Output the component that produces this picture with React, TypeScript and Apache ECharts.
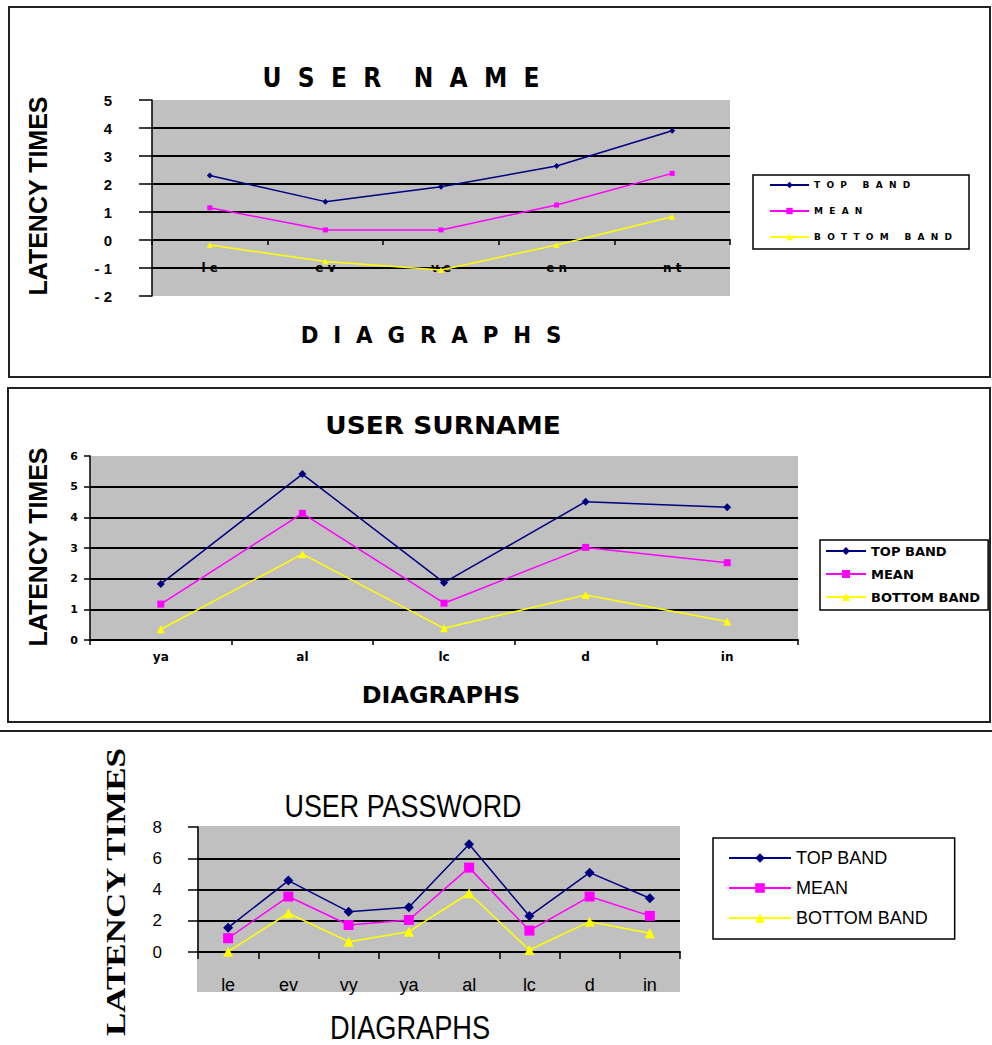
import React, { useEffect, useRef } from 'react';
import * as echarts from 'echarts';

// ---- data ----
const seriesNames = ['TOP BAND', 'MEAN', 'BOTTOM BAND'];

const nameCategories = ['le', 'ev', 've', 'en', 'nt'];
const nameTop = [2.3, 1.37, 1.9, 2.64, 3.9];
const nameMean = [1.15, 0.36, 0.36, 1.25, 2.38];
const nameBottom = [-0.18, -0.77, -1.07, -0.18, 0.83];

const surnameCategories = ['ya', 'al', 'lc', 'd', 'in'];
const surnameTop = [1.83, 5.41, 1.87, 4.51, 4.33];
const surnameMean = [1.17, 4.13, 1.2, 3.02, 2.52];
const surnameBottom = [0.35, 2.8, 0.38, 1.47, 0.6];

const passwordCategories = ['le', 'ev', 'vy', 'ya', 'al', 'lc', 'd', 'in'];
const passwordTop = [1.56, 4.57, 2.58, 2.86, 6.9, 2.3, 5.08, 3.44];
const passwordMean = [0.88, 3.55, 1.73, 2.05, 5.4, 1.37, 3.55, 2.31];
const passwordBottom = [0.02, 2.48, 0.66, 1.3, 3.76, 0.13, 1.94, 1.2];

const NAVY = '#000080';
const MAGENTA = '#FF00FF';
const YELLOW = '#FFFF00';
const GRAY = '#C0C0C0';

function lineSeries(name: string, data: number[], idx: number, color: string, symbol: string, size: number, width: number) {
  return {
    name,
    type: 'line',
    xAxisIndex: idx,
    yAxisIndex: idx,
    data,
    symbol,
    symbolSize: size,
    itemStyle: { color },
    lineStyle: { color, width },
    z: 5,
  };
}

function txt(text: string, x: number, y: number, font: string, extra: any = {}) {
  return {
    type: 'text',
    x,
    y,
    silent: true,
    ...extra,
    style: { text, x: 0, y: 0, align: 'center', verticalAlign: 'middle', font, fill: '#000' },
  };
}

export default function App() {
  const ref = useRef<HTMLDivElement>(null);
  useEffect(() => {
    const chart = echarts.init(ref.current!, null, { renderer: 'svg' });
    const option: any = {
      animation: false,
      backgroundColor: '#fff',
      textStyle: { fontFamily: 'Liberation Sans' },
      grid: [
        { left: 152, top: 100, width: 578, height: 196, show: true, backgroundColor: GRAY, borderWidth: 0 },
        { left: 90, top: 456, width: 708, height: 184, show: true, backgroundColor: GRAY, borderWidth: 0 },
        { left: 198, top: 827, width: 482, height: 125, show: false },
      ],
      xAxis: [
        {
          gridIndex: 0, type: 'category', data: nameCategories, boundaryGap: true,
          position: 'bottom', offset: -56,
          axisLine: { onZero: false, lineStyle: { color: '#000', width: 2 } },
          axisTick: { show: true, length: 5, lineStyle: { color: '#000', width: 1.5 } },
          axisLabel: { margin: 22, color: '#000', fontFamily: 'DejaVu Sans', fontWeight: 'bold', fontSize: 12, formatter: (v: string) => v.split('').join(' ') },
          splitLine: { show: false },
        },
        {
          gridIndex: 1, type: 'category', data: surnameCategories, boundaryGap: true,
          axisLine: { onZero: false, lineStyle: { color: '#000', width: 2 } },
          axisTick: { show: true, length: 5, lineStyle: { color: '#000', width: 1.5 } },
          axisLabel: { margin: 11, color: '#000', fontFamily: 'DejaVu Sans', fontWeight: 'bold', fontSize: 12 },
          splitLine: { show: false },
        },
        {
          gridIndex: 2, type: 'category', data: passwordCategories, boundaryGap: true,
          axisLine: { onZero: false, lineStyle: { color: '#000', width: 2 } },
          axisTick: { show: true, length: 7, lineStyle: { color: '#000', width: 1.5 } },
          axisLabel: { margin: 24, color: '#000', fontFamily: 'Liberation Sans', fontSize: 18 },
          splitLine: { show: false },
        },
      ],
      yAxis: [
        {
          gridIndex: 0, type: 'value', min: -2, max: 5, interval: 1,
          axisLine: { show: true, lineStyle: { color: '#000', width: 1.5 } },
          axisTick: { show: true, length: 13, lineStyle: { color: '#000', width: 1.5 } },
          axisLabel: { margin: 40, color: '#000', fontFamily: 'Liberation Sans', fontWeight: 'bold', fontSize: 15, formatter: (v: number) => (v < 0 ? '- ' + -v : String(v)) },
          splitLine: { show: true, showMinLine: false, showMaxLine: false, lineStyle: { color: '#000', width: 2 } },
        },
        {
          gridIndex: 1, type: 'value', min: 0, max: 6, interval: 1,
          axisLine: { show: true, lineStyle: { color: '#000', width: 1.5 } },
          axisTick: { show: true, length: 6, lineStyle: { color: '#000', width: 1.5 } },
          axisLabel: { margin: 12, color: '#000', fontFamily: 'DejaVu Sans', fontWeight: 'bold', fontSize: 11 },
          splitLine: { show: true, showMinLine: false, showMaxLine: false, lineStyle: { color: '#000', width: 2 } },
        },
        {
          gridIndex: 2, type: 'value', min: 0, max: 8, interval: 2,
          axisLine: { show: true, lineStyle: { color: '#000', width: 1.5 } },
          axisTick: { show: true, length: 10, lineStyle: { color: '#000', width: 1.5 } },
          axisLabel: { margin: 36, color: '#000', fontFamily: 'Liberation Sans', fontSize: 17 },
          splitLine: { show: true, showMinLine: false, showMaxLine: false, lineStyle: { color: '#000', width: 2 } },
        },
      ],
      legend: [
        {
          orient: 'vertical', left: 753, top: 175, data: seriesNames,
          itemWidth: 39, itemHeight: 8, itemGap: 14, padding: [4, 17, 6, 16],
          borderColor: '#000', borderWidth: 1.5, backgroundColor: '#fff',
          textStyle: { fontFamily: 'DejaVu Sans', fontWeight: 'bold', fontSize: 9, lineHeight: 12, color: '#000' },
          formatter: (n: string) => n.split('').join('  '),
        },
        {
          orient: 'vertical', left: 820, top: 540, data: seriesNames,
          itemWidth: 40, itemHeight: 10, itemGap: 7, padding: [3, 8, 5, 5],
          borderColor: '#000', borderWidth: 1.5, backgroundColor: '#fff',
          textStyle: { fontFamily: 'DejaVu Sans', fontWeight: 'bold', fontSize: 13, lineHeight: 16, color: '#000' },
        },
        {
          orient: 'vertical', left: 713, top: 838, data: seriesNames,
          itemWidth: 62, itemHeight: 12, itemGap: 10, padding: [10, 27, 11, 15],
          borderColor: '#000', borderWidth: 1.5, backgroundColor: '#fff',
          textStyle: { fontFamily: 'Liberation Sans', fontSize: 18, lineHeight: 20, color: '#000' },
        },
      ],
      graphic: [
        { type: 'rect', silent: true, z: -10, shape: { x: 197, y: 826, width: 483, height: 166 }, style: { fill: GRAY } },
        { type: 'rect', silent: true, shape: { x: 9, y: 7, width: 981, height: 370 }, style: { fill: 'none', stroke: '#222', lineWidth: 2 } },
        { type: 'rect', silent: true, shape: { x: 8, y: 388, width: 982, height: 334 }, style: { fill: 'none', stroke: '#222', lineWidth: 2 } },
        { type: 'line', silent: true, shape: { x1: 0, y1: 731, x2: 992, y2: 731 }, style: { stroke: '#222', lineWidth: 2 } },
        txt('U  S  E  R    N  A  M  E', 401, 78, 'bold 26px "DejaVu Sans"', { scaleX: 0.9 }),
        txt('D  I  A  G  R  A  P  H  S', 431, 335, 'bold 23px "DejaVu Sans"', { scaleX: 0.93 }),
        txt('LATENCY TIMES', 38, 196, 'bold 25px "Liberation Sans"', { rotation: Math.PI / 2 }),
        txt('USER SURNAME', 443, 426, 'bold 24px "DejaVu Sans"', { scaleX: 1.1 }),
        txt('DIAGRAPHS', 441, 695, 'bold 23px "DejaVu Sans"', { scaleX: 1.04 }),
        txt('LATENCY TIMES', 38, 547, 'bold 25px "Liberation Sans"', { rotation: Math.PI / 2 }),
        txt('USER PASSWORD', 403, 806, '32px "Liberation Sans"', { scaleX: 0.84 }),
        txt('DIAGRAPHS', 410, 1027, '34px "Liberation Sans"', { scaleX: 0.8 }),
        txt('LATENCY TIMES', 116, 892, 'bold 35px "Liberation Serif"', { rotation: Math.PI / 2, scaleY: 0.8 }),
      ],
      series: [
        lineSeries(seriesNames[0], nameTop, 0, NAVY, 'diamond', 6, 1.5),
        lineSeries(seriesNames[1], nameMean, 0, MAGENTA, 'rect', 5, 1.5),
        lineSeries(seriesNames[2], nameBottom, 0, YELLOW, 'triangle', 6, 1.5),
        lineSeries(seriesNames[0], surnameTop, 1, NAVY, 'diamond', 8, 1.5),
        lineSeries(seriesNames[1], surnameMean, 1, MAGENTA, 'rect', 7, 1.5),
        lineSeries(seriesNames[2], surnameBottom, 1, YELLOW, 'triangle', 8, 1.5),
        lineSeries(seriesNames[0], passwordTop, 2, NAVY, 'diamond', 10, 1.5),
        lineSeries(seriesNames[1], passwordMean, 2, MAGENTA, 'rect', 10, 1.5),
        lineSeries(seriesNames[2], passwordBottom, 2, YELLOW, 'triangle', 10, 1.5),
      ],
    };
    chart.setOption(option);
    return () => chart.dispose();
  }, []);
  return (
    <div
      ref={ref}
      style={{ position: 'absolute', left: 0, top: 0, width: 992, height: 1045, background: '#fff' }}
    />
  );
}
